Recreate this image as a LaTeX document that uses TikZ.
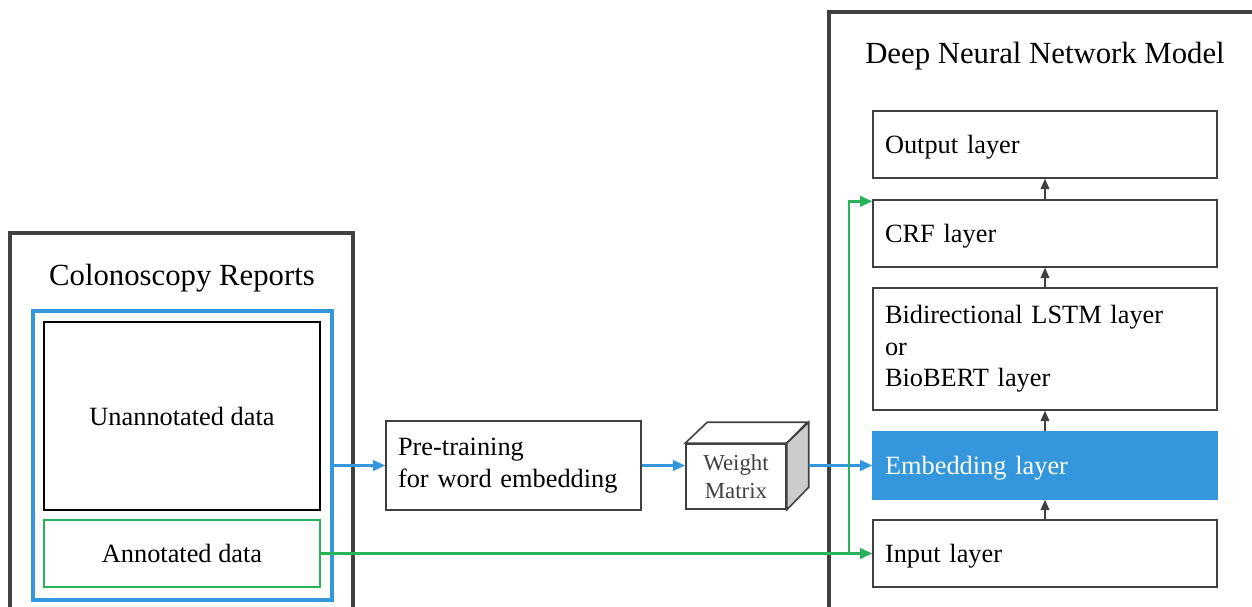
\documentclass[tikz,border=0pt]{standalone}
\usepackage{fontspec}
\setmainfont{Liberation Serif}
\usetikzlibrary{arrows.meta}
\definecolor{nnblue}{RGB}{52,150,220}
\definecolor{nngreen}{RGB}{40,178,90}
\definecolor{nngray}{RGB}{64,64,64}
\begin{document}
\begin{tikzpicture}[x=0.02cm, y=-0.02cm, >={Triangle[length=7pt,width=6pt]},
   frame/.style={draw=nngray, line width=2.3pt},
   boxtitle/.style={font=\fontsize{17.5}{21}\selectfont},
   layer/.style={draw=nngray, line width=0.8pt, minimum width=6.88cm, minimum height=1.34cm,
      text width=6.4cm, inner xsep=0.24cm, align=left, text depth=0pt, font=\fontsize{15}{18}\selectfont},
   data/.style={line width=0.8pt, minimum width=5.52cm, text depth=0pt, font=\fontsize{15}{18}\selectfont},
   blueflow/.style={nnblue, line width=1.4pt, ->},
   greenflow/.style={nngreen, line width=1.4pt, ->},
   up/.style={nngray, line width=1pt, ->, >={Triangle[length=6pt,width=5pt]}}]
\useasboundingbox (0,0) rectangle (1252,607);
\clip (0,0) rectangle (1252,607);

% data side
\draw [frame](10,233) rectangle (353,640);
\node (title1) [boxtitle] at (182,278) {Colonoscopy Reports};
\node (pool) [draw=nnblue, line width=2.3pt, minimum width=5.98cm, minimum height=5.78cm] at (182.5,455.5){};
\node (unann) [data, draw=black, minimum height=3.76cm] at (182,416){Unannotated data};
\node (ann) [data, draw=nngreen, minimum height=1.34cm] at (182,553.5){Annotated data};

% pre-training and weights
\node (pretrain) [draw=nngray, line width=0.8pt, minimum width=5.1cm, minimum height=1.78cm,
   text width=4.62cm, inner xsep=0.24cm, align=left, font=\fontsize{15}{18}\selectfont] at (513.5,465.5)
   {Pre-training\\for word embedding};
\node (wm) [draw=nngray, line width=0.9pt, fill=white, minimum width=2cm, minimum height=1.3cm,
   align=center, text=nngray, font=\fontsize{13}{16}\selectfont] at (736,476.5){Weight\\Matrix};
\draw [nngray, line width=0.9pt](wm.north west)--++(22,-21)--++(100,0)--(wm.north east)--cycle;
\draw [nngray, line width=0.9pt, fill=black!20](wm.north east)--++(22,-21)--++(0,65)--(wm.south east)--cycle;

% network side
\draw [frame](829,12) rectangle (1280,640);
\node (title2) [boxtitle] at (1045,56) {Deep Neural Network Model};
\node (out) [layer] at (1045,144.5){Output layer};
\node (crf) [layer] at (1045,233.5){CRF layer};
\node (rnn) [layer, text depth=, minimum height=2.44cm] at (1045,349){Bidirectional LSTM layer\\or\\BioBERT layer};
\node (emb) [layer, fill=nnblue, draw=nnblue, text=white] at (1045,465.5){Embedding layer};
\node (inp) [layer] at (1045,553.5){Input layer};

\draw [up](inp)--(emb);
\draw [up](emb)--(rnn);
\draw [up](rnn)--(crf);
\draw [up](crf)--(out);

% flows
\draw [blueflow](pool.east |- pretrain.west)--(pretrain.west);
\draw [blueflow](pretrain.east)--(wm.west |- pretrain.east);
\draw [blueflow]([xshift=0.44cm]wm.east |- emb.west)--(emb.west);
\coordinate (split) at (849,553.5);
\draw [greenflow](ann.east)--(inp.west);
\draw [greenflow](split)|-([yshift=-0.04cm]crf.north west);
\end{tikzpicture}
\end{document}
